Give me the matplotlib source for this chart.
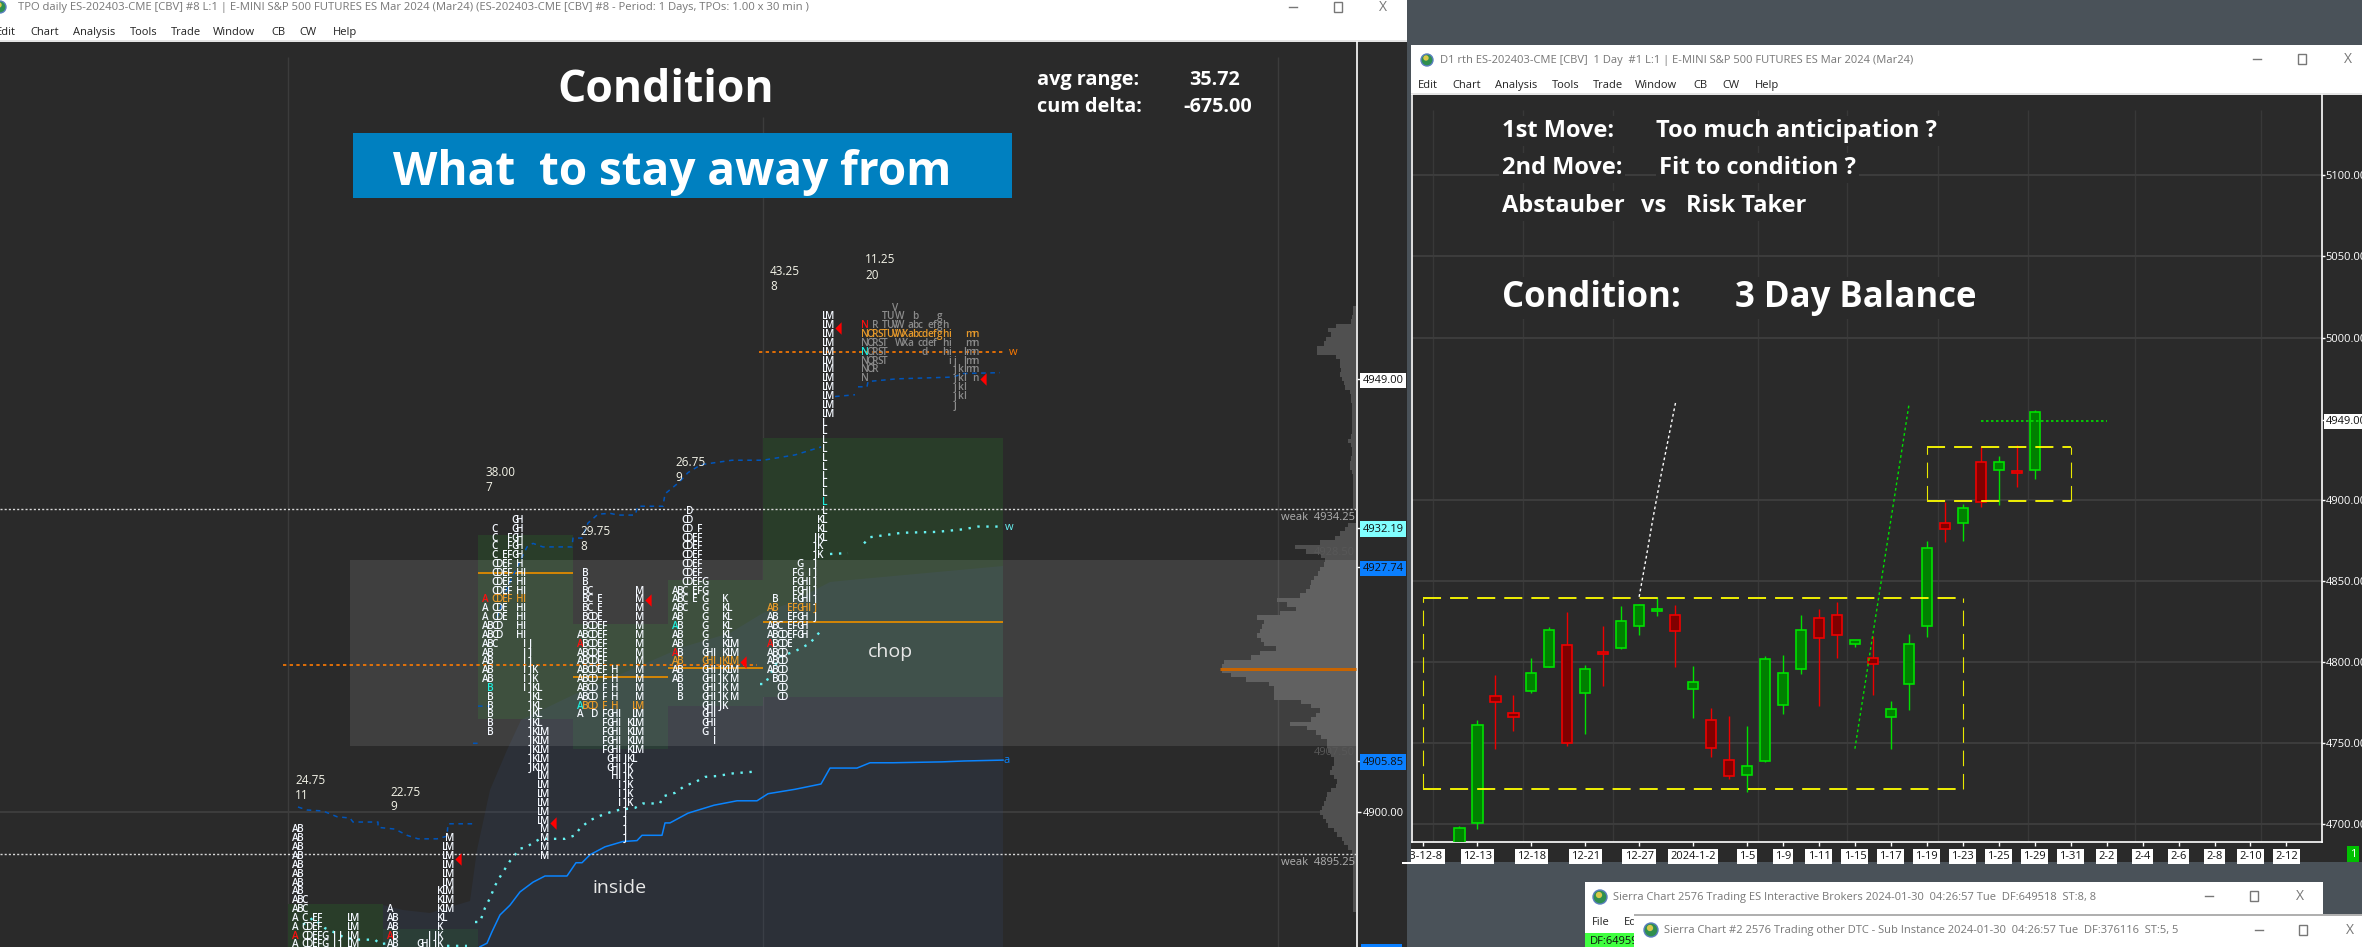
import numpy as np
import matplotlib
matplotlib.use("Agg")
import matplotlib.pyplot as plt
from matplotlib.patches import Rectangle, Polygon, Circle

plt.rcParams['font.family'] = ['Open Sans', 'DejaVu Sans']

BG = '#2a2a2a'
DESK = '#4a5259'
GRID = '#3c3c3c'

# ---- daily candles, right window
CANDLE_OPEN = [4680, 4700.6, 4778.8, 4768.4, 4782, 4797, 4810.3, 4781, 4806.2, 4808.8, 4822, 4831.6,
               4828.7, 4783.6, 4764, 4739.4, 4730.2, 4739.2, 4773.3, 4795.5, 4826.9, 4828.7, 4811.3,
               4802.3, 4765.9, 4786.2, 4822, 4885.4, 4885.4, 4923.5, 4918.3, 4917.9, 4918.3]
CANDLE_CLOSE = [4698, 4761, 4775.2, 4766.3, 4793, 4820, 4749.9, 4795.5, 4805.1, 4825, 4834.9, 4833,
                4818.9, 4788, 4746.8, 4729.6, 4735.7, 4801.6, 4793, 4819.5, 4814.6, 4816.4, 4813.3,
                4798.6, 4770.8, 4810.9, 4870.6, 4881.7, 4894.7, 4898.8, 4923.5, 4916.5, 4954.3]
CANDLE_HIGH = [4699, 4764.3, 4792, 4779.7, 4802.7, 4821.6, 4830.8, 4798, 4822, 4834.5, 4835.7, 4839.8,
               4835, 4797.5, 4771.7, 4766.7, 4760.6, 4803.7, 4804.3, 4829, 4832.6, 4837, 4813.3,
               4816.2, 4776, 4817.2, 4874.5, 4898.8, 4897.3, 4932.9, 4926.7, 4933.5, 4955.6]
CANDLE_LOW = [4670, 4697.3, 4746.6, 4757.7, 4780.7, 4797, 4748.5, 4755.6, 4785.4, 4808, 4816.6, 4828.5,
              4797, 4765.7, 4741.7, 4727.7, 4720, 4738.4, 4768.2, 4792.6, 4773, 4802.7, 4809.4,
              4779.9, 4746.6, 4770.4, 4815.6, 4873.9, 4874.7, 4895.7, 4896.7, 4908, 4912.6]

DATE_POS = [-2, 1, 4, 7, 10, 13, 16, 18, 20, 22, 24, 26, 28, 30, 32, 34, 36, 38, 40, 42, 44, 46]
DATE_LABELS = ['23-12-8', '12-13', '12-18', '12-21', '12-27', '2024-1-2', '1-5', '1-9', '1-11', '1-15',
               '1-17', '1-19', '1-23', '1-25', '1-29', '1-31', '2-2', '2-4', '2-6', '2-8', '2-10', '2-12']
RIGHT_PRICES = [5100, 5050, 5000, 4949, 4900, 4850, 4800, 4750, 4700]
RIGHT_GRID_X = [-1.47, 3.55, 8.57, 16.6, 21.57, 26.6, 31.6, 37.6, 44.6]

# ---- TPO profiles, left window. one string per price row, from the top row down
TPO_TOP = [4898, 4897, 4933, 4927, 4934, 4956, 4957]
TPO_0 = ['AB'] * 8 + ['ABC', 'ABC', 'ACEFLM', 'ACDEFLM', 'ACDEFGIJLM', 'ACDEFGIJLM']
TPO_1 = ['M', 'LM', 'LM', 'LM', 'LM', 'LM', 'KLM', 'KLM', 'AKLM', 'ABKL', 'ABK', 'ABIJK', 'ABGHIJK']
TPO_2 = ['GH', 'CGH', 'CFGH', 'CFGH', 'CEFGH', 'CDEFH', 'CDEFHI', 'CDEFHI', 'CDEFHI', 'ACDEFHI',
         'ACDEHI', 'ACDEHI', 'ABCDHI', 'ABCDHI', 'ABCIJ', 'ABIJ', 'ABIJ', 'ABIJK', 'ABIJK', 'BIJKL',
         'BJKL', 'BJKL', 'BJKL', 'BJKL', 'BJKLM', 'JKLM', 'JKLM', 'JKLM', 'JKLM', 'LM', 'LM', 'LM',
         'LM', 'LM', 'LM', 'M', 'M', 'M', 'M']
TPO_3 = ['B', 'B', 'BCM', 'BCEM', 'BCEM', 'BCDEM', 'BCDEFM', 'ABCDEFM', 'ABCDEFM', 'ABCDEFM', 'ABCDEFM',
         'ABCDEFHM', 'ABCDFHM', 'ABCDFHM', 'ABCDFHM', 'ABCDFHLM', 'ADFGHILM', 'FGHIKLM', 'FGHIKLM',
         'FGHIKLM', 'FGHIKLM', 'GHIJKL', 'GHIJK', 'HIJK', 'IJK', 'IJK', 'IJK', 'J', 'J', 'J', 'J']
TPO_4 = ['D', 'CD', 'CDF', 'CDEF', 'CDEF', 'CDEF', 'CDEF', 'CDEF', 'CDEFG', 'ABCEFG', 'ABCEGK', 'ABCGKL',
         'ABGKL', 'ABGKL', 'ABGKL', 'ABGKLM', 'ABGHIKLM', 'ABGHIJKLM', 'ABGHIJKLM', 'ABGHIJKM', 'BGHIJKM',
         'BGHIJKM', 'GHIJK', 'GHI', 'GHI', 'GI', 'I']
TPO_5 = ['LM'] * 12 + ['L'] * 11 + ['KL', 'KL', 'JKL', 'JK', 'JK', 'GJ', 'FGIJ', 'FGHIJ', 'FGHIJ', 'BFGHIJ',
         'ABEFGHIJ', 'ABEFGHJ', 'ABCEFGH', 'ABCDEFGH', 'ABCDE', 'ABCD', 'ABCD', 'ABCD', 'BCD', 'CD', 'CD']
TPO_6 = ['V', 'TUWbg', 'NRTUVWabcefgh', 'NORSTUVWXabcdefghimn', 'NORSTWXacdefhimn', 'NORSTdhilmn',
         'NORSTijlmn', 'NORjklmn', 'Njkln', 'jkl', 'jkl', 'j']
TPO_LETTERS_LATE = 'NORSTUVWXabcdefghijklmn'
POC_ROWS = [None, None, 4924, 4912, 4917, 4923, 4954]
RED_LETTER = [(0, 4886, 'A'), (1, 4886, 'A'), (2, 4924, 'A'), (3, 4919, 'A'), (4, 4918, 'A'), (5, 4919, 'A'), (6, 4955, 'N')]
CYAN_LETTER = [(2, 4914, 'B'), (3, 4912, 'A'), (4, 4921, 'A'), (5, 4935, 'L'), (6, 4952, 'N')]
CLOSE_ARROW_PRICE = [4894.7, 4898.8, 4924, 4917, 4954.8, 4949]

VA_HIGH = [4889.6, 4886.8, 4931.3, 4921.3, 4926.3, 4942.3]
VA_LOW = [4880, 4880, 4910.6, 4907.1, 4912, 4913]
POC_PRICE = [4927, 4915.3, 4916.3, 4921.5]

RANGE_LABELS = ['24.75', '22.75', '38.00', '29.75', '26.75', '43.25', '11.25']
COUNT_LABELS = ['11', '9', '7', '8', '9', '8', '20']

# developing lines: x is the column position on the left chart, nan breaks the line
VWAP_X = [298, 307, 323, 337, 350, 353, 378, 378, 395, 407, 418, 437, 447, 448, 473, np.nan, 473, 478, np.nan, 478, 490,
          np.nan, 497, 508, 527, 533, 543, 572, 573, 582, 588, 598, 610, 618, 635, 638, 663, 665, 679, 688, 701,
          732, 763, 795, 821, np.nan, 835, 855, np.nan, 858, 867, 868, 897, 953, 963, 1000]
VWAP_Y = [4900.6, 4900.26, 4900.15, 4899.5, 4899.35, 4898.9, 4898.9, 4898.3, 4898.1, 4897.4, 4897, 4897, 4897.3, 4898.7,
          4898.7, np.nan, 4907.8, 4907.8, np.nan, 4912, 4912, np.nan, 4922, 4925.6, 4930, 4930.4, 4930, 4930, 4931, 4931,
          4932.7, 4933.7, 4933.8, 4933.6, 4933.6, 4934.6, 4934.6, 4936, 4937.3, 4938.4, 4939.3, 4939.8, 4939.8,
          4940.4, 4941.3, np.nan, 4947, 4947.2, np.nan, 4948.1, 4948.1, 4948.7, 4949, 4949.2, 4949.6, 4949.7]
CYAN_X = [303, 313, 325, 333, 345, 360, 375, 380, 388, np.nan, 447, 467, np.nan, 475, 480, 485, 490, 495, 500, 510, 515,
          520, 525, 540, 565, 575, 580, 590, 600, 610, 620, 635, 643, 660, 663, 675, 685, 695, 705, 717, 733, 755,
          np.nan, 760, 765, 780, 795, 810, 815, 820, np.nan, 825, np.nan, 830, 848, np.nan, 864, 870, 902, 937, 964, 978, 1000]
CYAN_Y = [4887.3, 4888.05, 4886.9, 4886.5, 4885.8, 4885.6, 4885.6, 4885.1, 4885.2, np.nan, 4884.9, 4884.9, np.nan,
          4887.6, 4887.6, 4889.2, 4890.3, 4891.7, 4892.7, 4894.5, 4895.2, 4895.9, 4896, 4897, 4897, 4897.4, 4898.2,
          4899.1, 4899.6, 4900, 4900.3, 4900.5, 4901, 4901, 4901.8, 4902.2, 4903, 4903.4, 4904, 4904.1, 4904.4, 4904.6,
          np.nan, 4914.5, 4914.5, 4917.6, 4918.2, 4919.1, 4919.8, 4920.4, np.nan, 4924.8, np.nan, 4929.2, 4929.3, np.nan,
          4930.4, 4931.1, 4931.6, 4931.7, 4932, 4932.3, 4932.3]
STEP_X = [480, 487, 492, 500, 510, 520, 533, 545, 567, 576, 582, 590, 605, 623, 637, 642, 662, 665, 670, 688, 714, 737,
          757, 768, 795, 821, 830, 857, 870, 893, 942, 964, 1003]
STEP_Y = [4884.8, 4885.2, 4886.5, 4888.4, 4889.5, 4891, 4892.1, 4892.8, 4892.8, 4894.3, 4894.3, 4895.2, 4896.1, 4896.7,
          4896.8, 4897.4, 4897.4, 4898.8, 4898.8, 4899.9, 4900.8, 4901.3, 4901.3, 4902.1, 4902.6, 4903.2, 4905, 4905,
          4905.6, 4905.6, 4905.7, 4905.8, 4905.9]

# side volume profile, half point rows from 4957 down
SIDE_TOP = 4957
SIDE_WIDTH = [3, 3, 4, 5, 20, 28, 25, 30, 32, 39, 39, 20, 16, 16, 15, 16, 14, 12, 11, 6, 5, 5, 4, 4, 4, 4, 4, 4, 4, 5, 8, 5,
              4, 4, 5, 6, 6, 4, 3, 3, 3, 3, 3, 3, 3, 3, 0, 0, 0, 8, 11, 16, 21, 36, 61, 50, 35, 31, 32, 36, 38, 42, 45, 46,
              50, 56, 79, 69, 60, 76, 99, 92, 94, 96, 99, 95, 92, 80, 96, 105, 132, 134, 134, 125, 110, 87, 82, 82, 82,
              55, 45, 36, 40, 45, 66, 49, 40, 35, 29, 29, 28, 25, 22, 22, 24, 26, 22, 19, 20, 25, 29, 30, 32, 34, 36, 33,
              30, 28, 22, 19, 14, 12, 8, 4, 3, 3, 3, 3, 3, 3, 3, 3, 3, 3, 3, 3, 3]

LEFT_PRICES = [4949.00, 4932.19, 4927.74, 4905.85, 4900.00]

# ---- figure and layers
W, H = 2362, 947
fig = plt.figure(figsize=(W / 100, H / 100), dpi=100, facecolor=DESK)


def px_axes(x0, y0, x1, y1, zorder):
    ax = fig.add_axes([x0 / W, 1 - y1 / H, (x1 - x0) / W, (y1 - y0) / H], zorder=zorder)
    ax.patch.set_alpha(0)
    return ax


base = px_axes(0, 0, W, H, 0)
base.set_xlim(0, W)
base.set_ylim(H, 0)
base.axis('off')
top = px_axes(0, 0, W, H, 5)
top.set_xlim(0, W)
top.set_ylim(H, 0)
top.axis('off')


def rect(ax, x0, y0, x1, y1, color, z=1):
    ax.add_patch(Rectangle((x0, y0), x1 - x0, y1 - y0, facecolor=color, edgecolor='none', zorder=z))


def globe(ax, x, y, r=6, z=3):
    ax.add_patch(Circle((x, y), r, facecolor='#2f8f4f', edgecolor='#5a7fc0', lw=1, zorder=z))
    ax.add_patch(Circle((x - 1, y - 2), r * 0.45, facecolor='#d8c84a', edgecolor='none', zorder=z + 1))


def window_buttons(ax, xs, y, z=4):
    ax.plot([xs[0] - 4, xs[0] + 4], [y, y], color='#777777', lw=1, zorder=z)
    ax.add_patch(Rectangle((xs[1] - 4, y - 5), 8, 10, fill=False, edgecolor='#777777', lw=1, zorder=z))
    ax.text(xs[2], y, 'X', color='#777777', fontsize=10, ha='center', va='center', zorder=z)


def menu(ax, items, xs, y):
    for name, x in zip(items, xs):
        ax.text(x, y, name, fontsize=8, color='#222222', va='center', zorder=4)


MENU = ['Edit', 'Chart', 'Analysis', 'Tools', 'Trade', 'Window', 'CB', 'CW', 'Help']

# left window chrome
rect(base, 0, 42, 1407, H, BG)
rect(base, 0, 0, 1407, 40, 'white')
rect(base, 0, 40, 1407, 42, '#e4e4e4')
globe(base, 0, 7)
base.text(18, 7, 'TPO daily ES-202403-CME [CBV] #8 L:1 | E-MINI S&P 500 FUTURES ES Mar 2024 (Mar24) (ES-202403-CME [CBV] #8 - Period: 1 Days, TPOs: 1.00 x 30 min )',
          fontsize=8.1, color='#777777', va='center', zorder=4)
menu(base, MENU, [-4, 30, 73, 130, 171, 213, 271, 299, 333], 32)
window_buttons(base, [1293, 1338, 1383], 7)

# right window chrome
rect(base, 1411, 45, W, 862, BG)
rect(base, 1411, 45, W, 93, 'white')
rect(base, 1411, 93, W, 95, '#e4e4e4')
globe(base, 1427, 60)
base.text(1440, 60, 'D1 rth ES-202403-CME [CBV]  1 Day  #1 L:1 | E-MINI S&P 500 FUTURES ES Mar 2024 (Mar24)',
          fontsize=8, color='#777777', va='center', zorder=4)
menu(base, MENU, [1418, 1452, 1495, 1552, 1593, 1635, 1693, 1722, 1755], 85)
window_buttons(base, [2257, 2302, 2348], 59)

# ---- left chart
axl = px_axes(0, 42, 1357, H, 1)
axl.set_xlim(0, 1357)
left_top = 4900 + (812.3 - 42) / 8.846
left_bot = 4900 - (947 - 812.3) / 8.846
axl.set_ylim(left_bot, left_top)
for s in ['top', 'left', 'bottom']:
    axl.spines[s].set_visible(False)
axl.spines['right'].set_color('white')
axl.spines['right'].set_linewidth(1.2)


def y2p(y):
    return 4900 + (812.3 - np.asarray(y, dtype=float)) / 8.846


axl.vlines([288, 763, 1278], left_bot, y2p([57, 117, 57]), color=GRID, lw=1, zorder=1)
axl.axhline(4900, color=GRID, lw=1.5, zorder=1)

va_edges = [288, 383, 478, 573, 668, 763, 1003]
for i in range(len(VA_HIGH)):
    axl.add_patch(Rectangle((va_edges[i], VA_LOW[i]), va_edges[i + 1] - va_edges[i], VA_HIGH[i] - VA_LOW[i],
                            facecolor='#293d29', edgecolor='none', zorder=2))

# blue tinted shape behind "inside"
tint_x = [383, 383, 403, 430, 470, 477, 490, 507, 521, 573, 683, 730, 763, 790, 830, 850, 1003, 1003]
tint_y = [947, 905, 910, 913, 901, 850, 790, 750, 720, 695, 647, 633, 613, 603, 582, 580, 566, 947]
axl.add_patch(Polygon(np.column_stack([tint_x, y2p(tint_y)]), closed=True, facecolor='#34466a',
                      alpha=0.22, edgecolor='none', zorder=3))

# side profile
side_prices = SIDE_TOP - 0.5 * np.arange(len(SIDE_WIDTH))
axl.barh(side_prices, -np.array(SIDE_WIDTH), left=1356, height=0.5, color='#505050', zorder=3)

# chop box
axl.add_patch(Rectangle((350, 4907.5), 1007, 21, facecolor='white', alpha=0.1, edgecolor='none', zorder=4))
axl.plot([1220, 1356], [4916.2, 4916.2], color='#c86400', lw=2.2, zorder=6, solid_capstyle='butt')

axl.hlines(POC_PRICE, va_edges[2:6], va_edges[3:7], color='#e08a00', lw=1.3, zorder=6)
axl.hlines([4934.25, 4895.25], 0, 1356, color='#d8d8d8', lw=1, linestyle=(0, (1.5, 1.5)), zorder=7)
axl.plot([283, 757], [4916.7, 4916.7], color='#ff7a00', lw=1.2, linestyle=(0, (2, 2)), zorder=7)
axl.plot([759, 1004], [4952, 4952], color='#ff7a00', lw=1.2, linestyle=(0, (2, 2)), zorder=7)

# developing lines
axl.plot(VWAP_X, VWAP_Y, color='#0055bb', lw=1.1, linestyle=(0, (3, 3)), zorder=6)
axl.plot(CYAN_X, CYAN_Y, color='#66f2f2', lw=1.7, linestyle=(0, (1, 2.8)), zorder=6)
axl.plot(STEP_X, STEP_Y, color='#0a84ff', lw=1.1, zorder=6)

# letters
tpo_x = [295, 390, 485, 580, 675, 770, 865]
profiles = [TPO_0, TPO_1, TPO_2, TPO_3, TPO_4, TPO_5, TPO_6]
for i, rows in enumerate(profiles):
    letters = TPO_LETTERS_LATE if i == 6 else 'ABCDEFGHIJKLM'
    base_col = '#8c8c8c' if i == 6 else '#f4f8ff'
    for k, row in enumerate(rows):
        price = TPO_TOP[i] - k
        for ch in row:
            col = base_col
            if price == POC_ROWS[i]:
                col = '#e89a2a'
            if (i, price, ch) in RED_LETTER:
                col = '#ff1010'
            if (i, price, ch) in CYAN_LETTER:
                col = '#20f0e0'
            axl.text(tpo_x[i] + 5 * letters.index(ch), price, ch, color=col, fontsize=7.2, ha='center', va='center',
                     fontweight='semibold', zorder=8, clip_on=True)

arrow_x = [458, 553, 648, 743, 838, 983]
arrow = [(-0.5, 0), (0.5, 1), (0.5, -1), (-0.5, 0)]
axl.plot(arrow_x, CLOSE_ARROW_PRICE, linestyle='none', marker=arrow, color='#ff0000', ms=9, mew=0, zorder=9)

axl.set_xticks([])
axl.yaxis.tick_right()
axl.set_yticks(LEFT_PRICES)
axl.set_yticklabels(['%.2f' % p for p in LEFT_PRICES])
axl.tick_params(axis='y', colors='white', length=3, width=1, pad=1, labelsize=8)
left_boxes = ['white', '#80ffff', '#0a7fff', '#0a7fff', None]
left_text = ['#111111', '#111111', '#111111', '#111111', 'white']
for lbl, b, c in zip(axl.get_yticklabels(), left_boxes, left_text):
    lbl.set_color(c)
    if b:
        lbl.set_bbox(dict(facecolor=b, edgecolor='none', pad=1.5))

# ---- right chart
axr = px_axes(1411.7, 95, 2321.5, 842.3, 1)
axr.set_xlim(-2.65, 47.95)
axr.set_ylim(4688.9, 5149.5)
axr.spines['top'].set_visible(False)
for s in ['left', 'right', 'bottom']:
    axr.spines[s].set_color('white')
    axr.spines[s].set_linewidth(1.2)
axr.vlines(RIGHT_GRID_X, 4688.9, 5140, color='#383838', lw=1, zorder=1)
axr.hlines([p for p in RIGHT_PRICES if p != 4949], -2.65, 47.95, color=GRID, lw=1.5, zorder=1)

idx = np.arange(len(CANDLE_OPEN))
for i in idx:
    up = CANDLE_CLOSE[i] >= CANDLE_OPEN[i]
    edge = '#00e000' if up else '#ee0000'
    fill = '#008000' if up else '#800000'
    axr.vlines(i, CANDLE_LOW[i], CANDLE_HIGH[i], color=edge, lw=1, zorder=3)
    axr.bar(i, abs(CANDLE_CLOSE[i] - CANDLE_OPEN[i]), bottom=min(CANDLE_OPEN[i], CANDLE_CLOSE[i]), width=0.58,
            facecolor=fill, edgecolor=edge, lw=1.2, zorder=4)

# balance boxes and move lines
dash = (0, (10, 5))
side_dash = (0, (14, 7))
for x0, x1, lo, hi in [(-2, 28, 4722, 4839.2), (26, 34, 4899, 4932.7)]:
    axr.plot([x0, x1], [hi, hi], color='#ffff00', lw=1.3, linestyle=dash, zorder=5)
    axr.plot([x0, x1], [lo, lo], color='#ffff00', lw=1.3, linestyle=dash, zorder=5)
    axr.plot([x0, x0], [lo, hi], color='#e8e800', lw=0.8, linestyle=side_dash, zorder=5)
    axr.plot([x1, x1], [lo, hi], color='#e8e800', lw=0.8, linestyle=side_dash, zorder=5)
axr.plot([10, 10.4, 10.75, 11.16, 12.05], [4840.2, 4864.9, 4887.5, 4912, 4961.3], color='white', lw=1,
         linestyle=(0, (2, 2)), zorder=5)
axr.plot([22, 25], [4746.6, 4958.2], color='#00e000', lw=1, linestyle=(0, (2, 2)), zorder=5)
axr.plot([29, 36], [4948.6, 4948.6], color='#00e000', lw=1.2, linestyle=(0, (1.5, 1.5)), zorder=5)

axr.set_xticks(DATE_POS)
axr.set_xticklabels(DATE_LABELS)
axr.tick_params(axis='x', colors='white', length=3, width=1, pad=3, labelsize=8)
for lbl in axr.get_xticklabels():
    lbl.set_color('#111111')
    lbl.set_bbox(dict(facecolor='white', edgecolor='none', pad=1.5))
axr.yaxis.tick_right()
axr.set_yticks(RIGHT_PRICES)
axr.set_yticklabels(['%.2f' % p for p in RIGHT_PRICES])
axr.tick_params(axis='y', colors='white', length=2, width=1, pad=1, labelsize=8)
for lbl, p in zip(axr.get_yticklabels(), RIGHT_PRICES):
    lbl.set_color('white')
    if p == 4949:
        lbl.set_color('#111111')
        lbl.set_bbox(dict(facecolor='white', edgecolor='none', pad=1.5))

# ---- text on top
mask = dict(facecolor=BG, edgecolor='none', pad=2)
top.text(666, 90, 'Condition', color='white', fontsize=32, fontweight='bold', ha='center', va='center', bbox=mask)
rect(top, 353, 133, 1012, 198, '#0080c0')
top.text(393, 172, 'What  to stay away from', color='white', fontsize=33, fontweight='bold', va='center', zorder=3)
for txt, x, y in [('avg range:', 1037, 80), ('35.72', 1189, 80), ('cum delta:', 1037, 107), ('-675.00', 1183, 107)]:
    top.text(x, y, txt, color='white', fontsize=14.3, fontweight='bold', va='center')

for txt, x, y, fs in [('1st Move:', 1502, 131, 17), ('Too much anticipation ?', 1656, 131, 17),
                      ('2nd Move:', 1502, 168, 17), ('Fit to condition ?', 1659, 168, 17),
                      ('Abstauber', 1502, 206, 17), ('vs', 1641, 206, 17), ('Risk Taker', 1686, 206, 17),
                      ('Condition:', 1502, 298, 25), ('3 Day Balance', 1735, 298, 25)]:
    top.text(x, y, txt, color='white', fontsize=fs, fontweight='bold', va='center', bbox=mask)

range_x = [295, 390, 485, 580, 675, 770, 865]
range_y = [780, 792, 472, 531, 462, 271, 259]
count_y = [795, 806, 487, 546, 477, 286, 275]
for x, y1, y2, a, b in zip(range_x, range_y, count_y, RANGE_LABELS, COUNT_LABELS):
    top.text(x, y1, a, color='#f4f4e8', fontsize=8.5, va='center')
    top.text(x, y2, b, color='#f4f4e8', fontsize=8.5, va='center')

top.text(890, 652, 'chop', color='#e8e8e8', fontsize=14, ha='center', va='center')
top.text(620, 888, 'inside', color='#e8e8e8', fontsize=14, ha='center', va='center')
top.text(1009, 352, 'w', color='#ff7a00', fontsize=8, va='center')
top.text(1005, 527, 'w', color='#66f2f2', fontsize=8, va='center')
top.text(1004, 760, 'a', color='#0a84ff', fontsize=8, va='center')
top.text(1355, 517, 'weak  4934.25', color='#b0b0b0', fontsize=8, ha='right', va='center')
top.text(1355, 862, 'weak  4895.25', color='#b0b0b0', fontsize=8, ha='right', va='center')
top.text(1355, 552, '4928.50', color='#585858', fontsize=8, ha='right', va='center')
top.text(1355, 752, '4907.50', color='#585858', fontsize=8, ha='right', va='center')
rect(top, 1361, 944, 1402, H, '#0a7fff')

# covers the start of the first date label, green cell bottom right
rect(top, 1400, 843, 1407, 862, BG)
rect(top, 1407, 843, 1411, 862, DESK)
top.text(2353, 854, '1', color='white', fontsize=8, ha='center', va='center',
         bbox=dict(facecolor='#00c000', edgecolor='none', pad=2))

# lower windows
rect(top, 1585, 882, 2323, H, 'white')
globe(top, 1600, 897, 7)
top.text(1613, 897, 'Sierra Chart 2576 Trading ES Interactive Brokers 2024-01-30  04:26:57 Tue  DF:649518  ST:8, 8',
         fontsize=8, color='#777777', va='center', zorder=4)
window_buttons(top, [2209, 2254, 2300], 896)
top.text(1592, 922, 'File', fontsize=8, color='#222222', va='center', zorder=4)
top.text(1624, 922, 'Ed', fontsize=8, color='#222222', va='center', zorder=4)
rect(top, 1585, 933, 1634, H, '#40ff40', 2)
top.text(1590, 941, 'DF:64959', fontsize=8, color='#111111', va='center', zorder=4)
rect(top, 1634, 914, W, H, 'white', 5)
rect(top, 1634, 914, W, 915.5, '#b0b0b0', 6)
globe(top, 1651, 930, 7, 7)
top.text(1664, 930, 'Sierra Chart #2 2576 Trading other DTC - Sub Instance 2024-01-30  04:26:57 Tue  DF:376116  ST:5, 5',
         fontsize=8, color='#777777', va='center', zorder=7)
window_buttons(top, [2259, 2303, 2350], 930, 7)

fig.savefig('out.png', dpi=100, facecolor=DESK)
